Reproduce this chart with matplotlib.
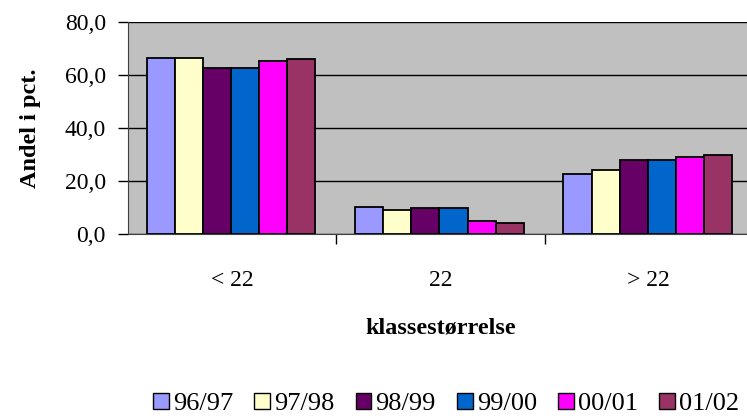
import matplotlib
matplotlib.use("Agg")
import matplotlib.pyplot as plt
import matplotlib.patches as mpatches
from matplotlib.ticker import FuncFormatter, FixedLocator
import numpy as np

plt.rcParams['font.family'] = ['Liberation Serif', 'DejaVu Serif']

categories = ['< 22', '22', '> 22']
seasons = ['96/97', '97/98', '98/99', '99/00', '00/01', '01/02']
colors = ['#9999FF', '#FFFFCC', '#660066', '#0066CC', '#FF00FF', '#993366']

v_9697 = [66.5, 10.3, 22.5]
v_9798 = [66.5, 9.1, 24.3]
v_9899 = [62.8, 9.7, 27.9]
v_9900 = [62.8, 9.7, 27.8]
v_0001 = [65.3, 4.9, 29.1]
v_0102 = [65.9, 4.3, 29.7]
values = [v_9697, v_9798, v_9899, v_9900, v_0001, v_0102]

W, H = 747, 416
fig = plt.figure(figsize=(W / 100, H / 100), dpi=100)
ax = fig.add_axes([128 / W, 1 - 234 / H, (753 - 128) / W, (234 - 22) / H])
ax.set_facecolor('#C0C0C0')

x = np.arange(len(categories))
bar_w = 0.135
for i, (vals, col) in enumerate(zip(values, colors)):
    offs = (i - 2.5) * bar_w - 0.005
    ax.bar(x + offs, vals, width=bar_w, color=col, edgecolor='black',
           linewidth=1.3, zorder=3)

ax.set_xlim(-0.5, 2.5)
ax.set_ylim(0, 80)
ax.set_yticks([0, 20, 40, 60, 80])
ax.yaxis.set_major_formatter(FuncFormatter(lambda v, p: f'{v:.1f}'.replace('.', ',')))
ax.grid(axis='y', color='black', linewidth=1.0, zorder=1)

ax.set_xticks(x)
ax.set_xticklabels(categories, fontsize=17)
ax.xaxis.set_minor_locator(FixedLocator([0.5, 1.5]))
ax.tick_params(axis='x', which='major', length=0, pad=26)
ax.tick_params(axis='x', which='minor', length=7, width=1, color='black')
ax.tick_params(axis='y', length=7, width=1, labelsize=17, pad=9)

for s in ['top', 'right']:
    ax.spines[s].set_visible(False)
ax.spines['left'].set_color('#404040')
ax.spines['bottom'].set_color('#404040')

ax.set_ylabel('Andel i pct.', fontsize=17.5, fontweight='bold', labelpad=17)
ax.set_xlabel('klassestørrelse', fontsize=17.5, fontweight='bold', labelpad=19)

handles = [mpatches.Patch(facecolor=c, edgecolor='black', linewidth=1, label=s)
           for c, s in zip(colors, seasons)]
fig.legend(handles=handles, loc='center', bbox_to_anchor=(446 / W, 1 - 404 / H),
           ncol=6, frameon=False, fontsize=19, handlelength=0.6, handleheight=0.6,
           handletextpad=0.15, columnspacing=0.8)

fig.savefig('out.png', dpi=100)
